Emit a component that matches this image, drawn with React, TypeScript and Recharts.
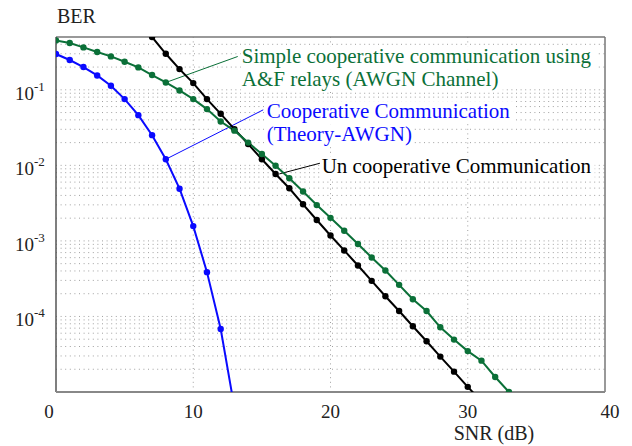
import React from 'react';
import { LineChart, Line, XAxis, YAxis, ReferenceLine, ReferenceDot } from 'recharts';

// SNR values (dB) for each curve
const coopSnr = [0, 1, 2, 3, 4, 5, 6, 7, 8, 9, 10, 11, 12, 13];
const coopBer = [0.2975, 0.248, 0.2, 0.155, 0.113, 0.0753, 0.0462, 0.0251, 0.01205, 0.00491, 0.00157, 3.86e-4, 6.83e-5, 6.2e-6];

const afSnr = [0, 1, 2, 3, 4, 5, 6, 7, 8, 9, 10, 11, 12, 13, 14, 15, 16, 17, 18, 19, 20, 21, 22, 23, 24, 25, 26, 27, 28, 29, 30, 31, 32, 33];
const afBer = [
  0.451, 0.416, 0.364, 0.316, 0.277, 0.235, 0.198, 0.1567, 0.125, 0.098, 0.0753, 0.0555, 0.038, 0.0288, 0.02,
  0.01416, 0.0099, 0.00675, 0.00451, 0.00298, 0.00202, 0.00136, 9.08e-4, 6.04e-4, 4.06e-4, 2.62e-4, 1.69e-4,
  1.18e-4, 7.19e-5, 4.94e-5, 3.48e-5, 2.6e-5, 1.58e-5, 1.0e-5,
];

const uncoopSnr = [7, 8, 9, 10, 11, 12, 13, 14, 15, 16, 17, 18, 19, 20, 21, 22, 23, 24, 25, 26, 27, 28, 29, 30, 31];
const uncoopBer = [
  0.5, 0.3, 0.188, 0.1227, 0.0753, 0.0481, 0.0301, 0.0192, 0.01205, 0.00769, 0.00497, 0.00305, 0.00189, 0.00118,
  7.48e-4, 4.73e-4, 2.96e-4, 1.85e-4, 1.18e-4, 7.41e-5, 4.69e-5, 2.94e-5, 1.86e-5, 1.17e-5, 7.5e-6,
];

const xTicks = [0, 10, 20, 30, 40];
const yTicks = [1e-4, 1e-3, 1e-2, 1e-1];
const yDomain: [number, number] = [1e-5, 0.5];
const xDomain: [number, number] = [0, 40];

const GREEN = '#0b7038';
const BLUE = '#0a0aff';
const BLACK = '#000000';
const serif = { fontFamily: "'Liberation Serif', 'Times New Roman', serif" };

const toRows = (xs: number[], ys: number[]) => xs.map((snr, i) => ({ snr, ber: ys[i] }));
const coopData = toRows(coopSnr, coopBer);
const afData = toRows(afSnr, afBer);
const uncoopData = toRows(uncoopSnr, uncoopBer);

// log grid: 2..9 x 10^n inside the domain
const minorGrid: number[] = [];
for (let e = -5; e <= -1; e++) {
  for (let m = 1; m <= 9; m++) {
    const v = m * Math.pow(10, e);
    if (v > yDomain[0] * 1.001 && v < yDomain[1] * 0.999) minorGrid.push(v);
  }
}

const XTick = (props: any) => {
  const { x, y, payload } = props;
  // end labels sit a little outside the frame in the original
  const shift = payload.value === xDomain[0] ? -7 : payload.value === xDomain[1] ? 5 : 0;
  return (
    <text x={x + shift} y={y + 26} textAnchor="middle" style={serif} fontSize={19} fill="#222">
      {payload.value}
    </text>
  );
};

const YTick = (props: any) => {
  const { x, y, payload } = props;
  const exp = Math.round(Math.log10(payload.value));
  return (
    <text x={x - 41} y={y + 10} style={serif} fontSize={19} fill="#222">
      10
      <tspan dy={-9} fontSize={13}>{exp}</tspan>
    </text>
  );
};

// label block drawn next to the end of a leader line
const noteShape = (lines: string[], widths: number[], color: string, dx: number, dy: number) => (props: any) => {
  const { cx, cy } = props;
  return (
    <g>
      {lines.map((t, i) => (
        <g key={t}>
          <rect x={cx + dx - 1} y={cy + dy + i * 23 - 17} width={widths[i]} height={22} fill="#fff" />
          <text x={cx + dx} y={cy + dy + i * 23} style={serif} fontSize={21} fill={color}>
            {t}
          </text>
        </g>
      ))}
    </g>
  );
};

export default function App() {
  return (
    <div style={{ position: 'fixed', left: 0, top: 0, width: 632, height: 446, background: '#fff' }}>
      <LineChart width={632} height={446} data={afData} margin={{ top: 37, right: 27, left: 0, bottom: 0 }}>
        <XAxis
          dataKey="snr"
          type="number"
          domain={xDomain}
          ticks={xTicks}
          axisLine={false}
          tickLine={false}
          tickSize={0}
          tickMargin={0}
          height={54}
          tick={<XTick />}
          allowDataOverflow
        />
        <YAxis
          dataKey="ber"
          type="number"
          scale="log"
          domain={yDomain}
          ticks={yTicks}
          axisLine={false}
          tickLine={false}
          tickSize={0}
          tickMargin={0}
          width={56}
          tick={<YTick />}
          allowDataOverflow
        />

        {minorGrid.map((v) => (
          <ReferenceLine key={'h' + v} y={v} stroke="#a0a0a0" strokeDasharray="1 3.6" strokeWidth={1} />
        ))}
        {[10, 20, 30].map((v) => (
          <ReferenceLine key={'v' + v} x={v} stroke="#a0a0a0" strokeDasharray="1 3.6" strokeWidth={1} />
        ))}

        {/* frame */}
        <ReferenceLine y={yDomain[1]} stroke="#777" strokeWidth={1.5} />
        <ReferenceLine x={xDomain[1]} stroke="#777" strokeWidth={1.5} />
        <ReferenceLine x={xDomain[0]} stroke="#555" strokeWidth={1.5} />
        <ReferenceLine y={yDomain[0]} stroke="#888" strokeWidth={2} />

        {/* leader lines */}
        <ReferenceLine segment={[{ x: 8, y: 0.125 }, { x: 13.24, y: 0.276 }]} stroke={GREEN} strokeWidth={1} />
        <ReferenceLine segment={[{ x: 8, y: 0.01205 }, { x: 15.1, y: 0.0543 }]} stroke={BLUE} strokeWidth={1} />
        <ReferenceLine segment={[{ x: 16.27, y: 0.0077 }, { x: 19.23, y: 0.01067 }]} stroke={BLACK} strokeWidth={1} />

        <ReferenceDot
          x={13.24}
          y={0.276}
          r={0}
          shape={noteShape(['Simple cooperative communication using', 'A&F relays (AWGN Channel)'], [356, 262], GREEN, 4, 6.6)}
        />
        <ReferenceDot
          x={15.1}
          y={0.0543}
          r={0}
          shape={noteShape(['Cooperative Communication', '(Theory-AWGN)'], [248, 148], BLUE, 3.4, 8.3)}
        />
        <ReferenceDot
          x={19.23}
          y={0.01067}
          r={0}
          shape={noteShape(['Un cooperative Communication'], [274], BLACK, 1.7, 10)}
        />

        <Line data={uncoopData} dataKey="ber" stroke={BLACK} strokeWidth={2} dot={{ r: 3.2, fill: BLACK, strokeWidth: 0 }} isAnimationActive={false} />
        <Line data={afData} dataKey="ber" stroke={GREEN} strokeWidth={2} dot={{ r: 3.2, fill: GREEN, strokeWidth: 0 }} isAnimationActive={false} />
        <Line data={coopData} dataKey="ber" stroke={BLUE} strokeWidth={2} dot={{ r: 3.2, fill: BLUE, strokeWidth: 0 }} isAnimationActive={false} />

        <text x={57} y={23} style={serif} fontSize={20} fill="#222">BER</text>
        <text x={494} y={440} textAnchor="middle" style={serif} fontSize={20} fill="#222">SNR (dB)</text>
      </LineChart>
    </div>
  );
}
